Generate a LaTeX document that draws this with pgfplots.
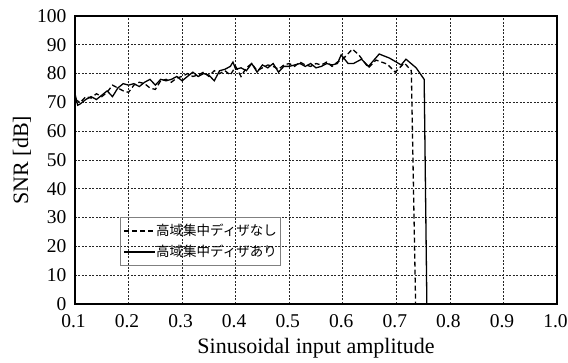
\documentclass[border=0pt]{standalone}
\usepackage{fontspec}
\setmainfont{Liberation Serif}
\newfontfamily\cjk{Noto Sans CJK JP}
\usepackage{pgfplots}
\pgfplotsset{compat=1.18}
\begin{document}
\begin{tikzpicture}
\begin{axis}[
  scale only axis,
  width=482pt, height=288pt,
  xmin=0.1, xmax=1.0, ymin=0, ymax=100,
  xtick={0.1,0.2,...,1.0},
  ytick={0,10,...,100},
  xticklabels={0.1,0.2,0.3,0.4,0.5,0.6,0.7,0.8,0.9,1.0},
  /pgf/number format/assume math mode=true,
  tick label style={font=\fontsize{19.5}{22}\selectfont},
  xticklabel style={anchor=center, yshift=-17pt, xshift=-1.5pt},
  yticklabel style={xshift=-5pt},
  xlabel={Sinusoidal input amplitude},
  ylabel={SNR [dB]},
  every axis x label/.style={at={(rel axis cs:0.5,0)}, yshift=-44pt, anchor=center, font=\fontsize{22}{24}\selectfont},
  every axis y label/.style={at={(rel axis cs:0,0.5)}, xshift=-53pt, rotate=90, anchor=center, font=\fontsize{22}{24}\selectfont},
  major tick length=0pt,
  axis line style={line width=1.3pt},
  grid=major,
  major grid style={black!85, line width=0.6pt, dash pattern=on 2pt off 1.5pt},
  legend style={at={(axis cs:0.184,30.2)}, anchor=north west, draw=gray, fill=none,
    font=\cjk\fontsize{13.5}{15}\selectfont, inner xsep=3pt, inner ysep=5pt, row sep=4pt,
    line width=0.8pt, nodes={inner xsep=0.5pt}},
  legend cell align=left,
  legend image code/.code={\draw[#1] (0pt,0pt) -- (31pt,0pt);},
]
\addplot[black, line width=1.3pt, dash pattern=on 5pt off 3pt] coordinates {
(0.100,71) (0.110,70) (0.120,72) (0.130,71.5) (0.140,73) (0.150,72) (0.160,73.5)
(0.170,76) (0.180,75) (0.190,74) (0.200,73.5) (0.210,76) (0.220,77) (0.230,76.5)
(0.240,75) (0.250,74.5) (0.260,77.5) (0.270,78) (0.280,77) (0.290,78.5) (0.300,79)
(0.310,80) (0.320,79) (0.330,79.5) (0.340,80.5) (0.350,79) (0.360,81) (0.370,80)
(0.380,81) (0.390,79.5) (0.400,82.5) (0.410,79) (0.420,82) (0.430,83.5) (0.440,81)
(0.450,82) (0.460,83) (0.470,82.5) (0.480,81.5) (0.490,83) (0.500,83.5) (0.510,82.5)
(0.520,84) (0.530,83) (0.540,82.5) (0.550,83.5) (0.560,83) (0.570,84) (0.580,82.5)
(0.590,84) (0.600,85) (0.618,88.5) (0.630,86.5) (0.648,82) (0.662,84.7) (0.683,83.3)
(0.698,80.5) (0.715,83.7) (0.728,81) (0.736,0)
};
\addlegendentry{高域集中ディザなし}
\addplot[black, line width=1.3pt] coordinates {
(0.100,73) (0.105,69) (0.110,69.5) (0.120,71) (0.130,72) (0.140,71) (0.150,72.5)
(0.160,74) (0.170,72) (0.180,75) (0.190,76.5) (0.200,76) (0.210,76.5) (0.220,75.5)
(0.230,77) (0.240,78) (0.250,76) (0.260,78) (0.270,77.5) (0.280,78) (0.290,79)
(0.300,77.5) (0.310,79) (0.320,80.5) (0.330,79) (0.340,80) (0.350,79.5) (0.360,77.5)
(0.370,81) (0.380,81.5) (0.390,82.5) (0.395,84) (0.400,81.5) (0.410,82) (0.420,81)
(0.430,83.5) (0.440,80.5) (0.450,83) (0.460,82) (0.470,83.5) (0.480,80.5) (0.490,82.5)
(0.500,82.5) (0.510,83) (0.520,83.5) (0.530,82.5) (0.540,83.5) (0.550,82) (0.560,82.5)
(0.570,83.5) (0.580,83) (0.590,83.5) (0.597,86.5) (0.610,83.5) (0.620,83.5) (0.635,85)
(0.648,82.5) (0.668,86.8) (0.687,85.4) (0.700,84) (0.709,83) (0.718,85) (0.737,82)
(0.752,78) (0.757,0)
};
\addlegendentry{高域集中ディザあり}
\end{axis}
\pgfresetboundingbox
\path[use as bounding box] ([shift={(-75pt,-59pt)}]current axis.south west) rectangle ([shift={(11pt,16pt)}]current axis.north east);
\end{tikzpicture}
\end{document}
